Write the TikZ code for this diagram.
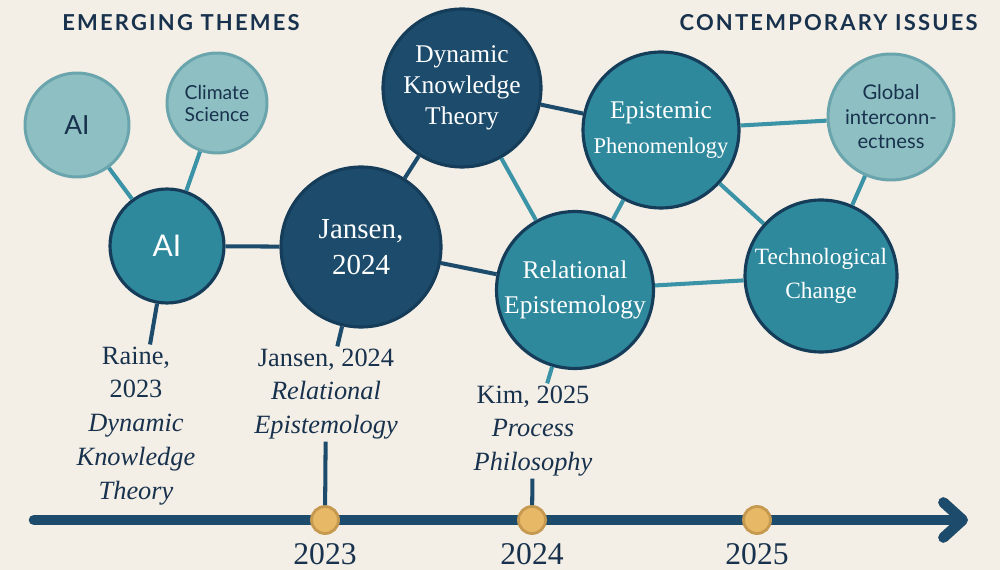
\documentclass[tikz,border=0pt]{standalone}
\usepackage{fontspec}
\setmainfont{Liberation Serif}
\newfontfamily\sansfont{Lato}
\newfontfamily\headfont[LetterSpace=10]{Lato}
\usetikzlibrary{positioning,arrows.meta}

\definecolor{paper}{HTML}{F4EFE6}
\definecolor{navy}{HTML}{1C4B6C}
\definecolor{navyedge}{HTML}{153D5A}
\definecolor{midteal}{HTML}{2F899D}
\definecolor{tealline}{HTML}{3A93A6}
\definecolor{pale}{HTML}{8EBFC2}
\definecolor{paleedge}{HTML}{6AA5AD}
\definecolor{ink}{HTML}{18324E}
\definecolor{gold}{HTML}{E7B967}
\definecolor{goldedge}{HTML}{C59A50}

\begin{document}
\begin{tikzpicture}[x=0.02cm,y=-0.02cm,
  pale/.style={circle,draw=paleedge,fill=pale,line width=1.7pt,text=ink,align=center,inner sep=0pt},
  mid/.style={circle,draw=navyedge,fill=midteal,line width=1.8pt,text=white,align=center,inner sep=0pt},
  dark/.style={circle,draw=navyedge,fill=navy,line width=1.8pt,text=white,align=center,inner sep=0pt},
  link/.style={draw=navy,line width=2.3pt},
  tlink/.style={draw=tealline,line width=2.3pt},
  cite/.style={text=ink,align=center,inner sep=1pt,font=\fontsize{15}{19.3}\selectfont},
  yeardot/.style={circle,fill=gold,draw=goldedge,line width=1.6pt,minimum size=0.54cm,inner sep=0pt},
  head/.style={text=ink,inner sep=0pt,font=\headfont\bfseries\fontsize{12.5}{14}\selectfont}]
\fill[paper] (0,0) rectangle (1000,570);
\useasboundingbox (0,0) rectangle (1000,570);

% headings
\node[head,anchor=west] (emerging) at (62,23) {EMERGING THEMES};
\node[head,anchor=east] (contemp) at (978,23) {CONTEMPORARY ISSUES};

% theme circles
\node[pale,minimum size=2.08cm,font=\sansfont\fontsize{15}{16}\selectfont] (aipale) at (77,125) {AI};
\node[pale,minimum size=2.0cm,font=\sansfont\fontsize{11}{12.5}\selectfont] (climate) at (217,103) {Climate\\Science};
\node[mid,minimum size=2.28cm,font=\sansfont\fontsize{17}{18}\selectfont] (aimid) at (167,246) {AI};
\node[dark,minimum size=3.2cm,font=\fontsize{16.5}{20.4}\selectfont] (jansen) at (361,247) {Jansen,\\2024};
\node[dark,minimum size=3.16cm,font=\fontsize{14.5}{17.6}\selectfont] (dkt) at (462,88) {Dynamic\\Knowledge\\Theory};
\node[mid,minimum size=3.12cm,font=\fontsize{14.5}{20}\selectfont] (epist) at (661,130) {Epistemic\\{\fontsize{12.8}{20}\selectfont Phenomenlogy}};
\node[mid,minimum size=3.14cm,font=\fontsize{14.5}{20}\selectfont] (relat) at (575,290) {Relational\\Epistemology};
\node[mid,minimum size=3.04cm,font=\fontsize{13.3}{19.3}\selectfont] (techn) at (821,276) {Technological\\Change};
\node[pale,minimum size=2.52cm,font=\sansfont\fontsize{11.5}{14}\selectfont] (global) at (891,117) {Global\\interconn-\\ectness};

% links between themes
\draw[tlink] (aipale) -- (aimid);
\draw[tlink] (climate) -- (aimid);
\draw[link] (aimid) -- (jansen);
\draw[link] (jansen) -- (dkt);
\draw[link] (jansen) -- (relat);
\draw[link] (dkt) -- (epist);
\draw[tlink] (dkt) -- (relat);
\draw[tlink] (epist) -- (relat);
\draw[tlink] (epist) -- (global);
\draw[tlink] (epist) -- (techn);
\draw[tlink] (relat) -- (techn);
\draw[tlink] (global) -- (techn);

% citations
\node[cite] (raine) at (136,426) {Raine,\\2023\\\itshape Dynamic\\\itshape Knowledge\\\itshape Theory};
\node[cite] (jansenlbl) at (326,394) {Jansen, 2024\\\itshape Relational\\\itshape Epistemology};
\node[cite] (kim) at (533,431) {Kim, 2025\\\itshape Process\\\itshape Philosophy};
\draw[link] (aimid) -- (raine);
\draw[link] (jansen) -- (jansenlbl);
\draw[tlink] (relat) -- (kim);

% timeline
\coordinate (tlstart) at (34,520);
\coordinate (tlend) at (968,520);
\draw[navy,line width=6pt,line cap=round,-{Straight Barb[length=11pt,width=20pt,round]}] (tlstart) -- (tlend);
\foreach \yr/\px in {2023/325,2024/532,2025/757} {
  \node[yeardot] (dot\yr) at (\px,520) {};
  \node[text=ink,anchor=base,inner sep=0pt,font=\fontsize{18}{20}\selectfont] (yr\yr) at (\px,564) {\yr};
}
\draw[link] (jansenlbl) -- (dot2023);
\draw[link] (kim) -- (dot2024);
\end{tikzpicture}
\end{document}
